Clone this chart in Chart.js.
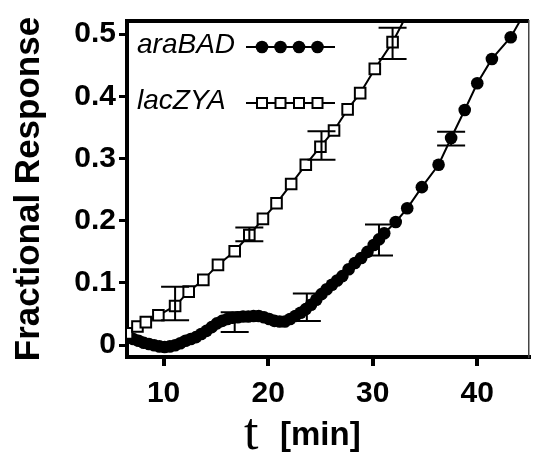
<!DOCTYPE html>
<html>
<head>
<meta charset="utf-8">
<script src="https://cdn.jsdelivr.net/npm/chart.js@4.4.0/dist/chart.umd.min.js"></script>
<style>
  html, body { margin: 0; padding: 0; background: #fff; }
  #wrap { width: 538px; height: 453px; }
</style>
</head>
<body>
<div id="wrap"><canvas id="chart" width="538" height="453"></canvas></div>
<script>
/* ─── Data ───────────────────────────────────────────────────────────────── */
const araT = [6.6, 7.1, 7.6, 8.1, 8.6, 9.1, 9.6, 10.1, 10.6, 11.1, 11.6, 12.1, 12.6, 13.1, 13.6,
  14.1, 14.6, 15.1, 15.6, 16.1, 16.6, 17.1, 17.6, 18.1, 18.6, 19.1, 19.6, 20.1, 20.6, 21.1,
  21.6, 22.1, 22.6, 23.1, 23.6, 24.1, 24.6, 25.1, 25.6, 26.1, 26.6, 27.1, 27.7, 28.3, 28.9,
  29.5, 30.1, 30.6, 31.1, 32.2, 33.3, 34.7, 36.3, 37.5, 38.8, 40.0, 41.4, 43.2, 44.9];
const araR = [0.015, 0.010, 0.007, 0.004, 0.002, 0.000, -0.002, -0.003, -0.002, 0.000, 0.003, 0.007, 0.010, 0.013, 0.018,
  0.023, 0.029, 0.035, 0.039, 0.042, 0.044, 0.045, 0.046, 0.046, 0.047, 0.047, 0.045, 0.042, 0.039, 0.038,
  0.038, 0.042, 0.047, 0.052, 0.058, 0.065, 0.073, 0.082, 0.090, 0.097, 0.104, 0.111, 0.122, 0.132, 0.140,
  0.150, 0.161, 0.170, 0.180, 0.198, 0.220, 0.254, 0.290, 0.333, 0.378, 0.421, 0.460, 0.495, 0.545];

const lacT = [6.5, 7.5, 8.3, 9.5, 11.1, 12.4, 13.8, 15.2, 16.8, 18.2, 19.5, 20.8, 22.2, 23.6,
  25.0, 26.3, 27.6, 28.8, 30.2, 31.9, 33.7];
const lacR = [0.019, 0.030, 0.037, 0.048, 0.063, 0.086, 0.105, 0.129, 0.151, 0.177, 0.203, 0.228, 0.259, 0.290,
  0.319, 0.345, 0.379, 0.405, 0.444, 0.487, 0.545];

/* error bars: time, centre, half-range */
const lacErrT = [11.1, 18.2, 25.1, 31.9];
const lacErrR = [0.067, 0.178, 0.321, 0.485];
const lacErrD = [0.027, 0.011, 0.023, 0.025];
const araErrT = [16.8, 23.7, 30.6, 37.5];
const araErrR = [0.037, 0.061, 0.169, 0.332];
const araErrD = [0.016, 0.022, 0.025, 0.011];

const xTicks = [10, 20, 30, 40];
const yTicks = [0, 0.1, 0.2, 0.3, 0.4, 0.5];

/* ─── Plugins ────────────────────────────────────────────────────────────── */
const errorBars = {
  id: 'errorBars',
  afterDatasetsDraw(chart) {
    const { ctx, scales: { x, y } } = chart;
    const cap = 14;
    ctx.save();
    ctx.strokeStyle = '#000';
    ctx.lineWidth = 2;
    [[lacErrT, lacErrR, lacErrD], [araErrT, araErrR, araErrD]].forEach(([ts, rs, ds]) => {
      ts.forEach((t, i) => {
        const px  = x.getPixelForValue(t);
        const top = y.getPixelForValue(rs[i] + ds[i]);
        const bot = y.getPixelForValue(rs[i] - ds[i]);
        ctx.beginPath();
        ctx.moveTo(px, top); ctx.lineTo(px, bot);
        ctx.moveTo(px - cap, top); ctx.lineTo(px + cap, top);
        ctx.moveTo(px - cap, bot); ctx.lineTo(px + cap, bot);
        ctx.stroke();
      });
    });
    ctx.restore();
  }
};

const keyAndTitle = {
  id: 'keyAndTitle',
  afterDraw(chart) {
    const { ctx, chartArea: a } = chart;
    ctx.save();
    ctx.fillStyle = '#000';
    ctx.strokeStyle = '#000';
    ctx.textBaseline = 'middle';
    ctx.font = 'italic 28px "Liberation Sans", Arial, sans-serif';

    const rows = [
      { label: 'araBAD', y: a.top + 26, filled: true },
      { label: 'lacZYA', y: a.top + 82, filled: false }
    ];
    rows.forEach(r => {
      ctx.fillText(r.label, a.left + 10, r.y - 2);
      ctx.lineWidth = 2;
      ctx.beginPath();
      ctx.moveTo(a.left + 119, r.y); ctx.lineTo(a.left + 208, r.y);
      ctx.stroke();
      for (let k = 0; k < 4; k++) {
        const mx = a.left + 135 + k * 18.5;
        ctx.beginPath();
        if (r.filled) {
          ctx.arc(mx, r.y, 6.3, 0, Math.PI * 2);
          ctx.fill();
        } else {
          ctx.fillStyle = '#fff';
          ctx.rect(mx - 5, r.y - 5, 10, 10);
          ctx.fill();
          ctx.stroke();
          ctx.fillStyle = '#000';
        }
      }
    });

    /* x title: serif "t" + sans "[min]" */
    ctx.textBaseline = 'alphabetic';
    ctx.font = '52px "Liberation Serif", "Times New Roman", serif';
    ctx.fillText('t', a.left + 117, 449);
    ctx.font = 'bold 33px "Liberation Sans", Arial, sans-serif';
    ctx.fillText('[min]', a.left + 153, 445);
    ctx.restore();
  }
};

/* ─── Chart ──────────────────────────────────────────────────────────────── */
const toPts = (ts, rs) => ts.map((t, i) => ({ x: t, y: rs[i] }));
const tickFont = { family: '"Liberation Sans", Arial, sans-serif', size: 30, weight: 'bold' };

new Chart(document.getElementById('chart'), {
  type: 'line',
  data: {
    datasets: [
      {
        label: 'araBAD',
        data: toPts(araT, araR),
        order: 2,
        borderColor: '#000',
        borderWidth: 2,
        backgroundColor: '#000',
        pointStyle: 'circle',
        pointRadius: 6.3,
        pointBorderWidth: 0,
        pointBackgroundColor: '#000'
      },
      {
        label: 'lacZYA',
        data: toPts(lacT, lacR),
        order: 1,
        borderColor: '#000',
        borderWidth: 2,
        backgroundColor: '#fff',
        pointStyle: 'rect',
        pointRadius: 7.5,
        pointBorderWidth: 2,
        pointBorderColor: '#000',
        pointBackgroundColor: '#fff'
      }
    ]
  },
  options: {
    responsive: false,
    animation: false,
    layout: { padding: 0 },
    elements: { line: { tension: 0, fill: false } },
    plugins: { legend: { display: false }, tooltip: { enabled: false } },
    scales: {
      x: {
        type: 'linear', position: 'bottom', min: 6.5, max: 44.9,
        afterBuildTicks: s => { s.ticks = xTicks.map(v => ({ value: v })); },
        afterFit: s => { s.height = 96; },
        ticks: { color: '#000', font: tickFont, padding: 10, maxRotation: 0, callback: v => String(v) },
        grid: { display: true, drawOnChartArea: false, drawTicks: true, tickLength: 9, lineWidth: 4, color: '#000' },
        border: { display: true, width: 4, color: '#000' },
        title: { display: false }
      },
      xTop: {
        type: 'linear', position: 'top', min: 6.5, max: 44.9,
        afterFit: s => { s.height = 17; },
        ticks: { display: false },
        grid: { display: false },
        border: { display: true, width: 4, color: '#000' }
      },
      y: {
        type: 'linear', position: 'left', min: -0.019, max: 0.521,
        afterBuildTicks: s => { s.ticks = yTicks.map(v => ({ value: v })); },
        afterFit: s => { s.width = 127; },
        ticks: { color: '#000', font: tickFont, padding: 3, callback: v => (v === 0 ? '0' : v.toFixed(1)) },
        grid: { display: true, drawOnChartArea: false, drawTicks: true, tickLength: 8, lineWidth: 3, color: '#000' },
        border: { display: true, width: 4, color: '#000' },
        title: {
          display: true,
          text: 'Fractional Response',
          color: '#000',
          font: { family: '"Liberation Sans", Arial, sans-serif', size: 35, weight: 'bold' },
          padding: { top: 8, bottom: 0 }
        }
      },
      yRight: {
        type: 'linear', position: 'right', min: -0.019, max: 0.521,
        afterFit: s => { s.width = 1; },
        ticks: { display: false },
        grid: { display: false },
        border: { display: true, width: 1.5, color: '#444' }
      }
    }
  },
  plugins: [errorBars, keyAndTitle]
});
</script>
</body>
</html>
